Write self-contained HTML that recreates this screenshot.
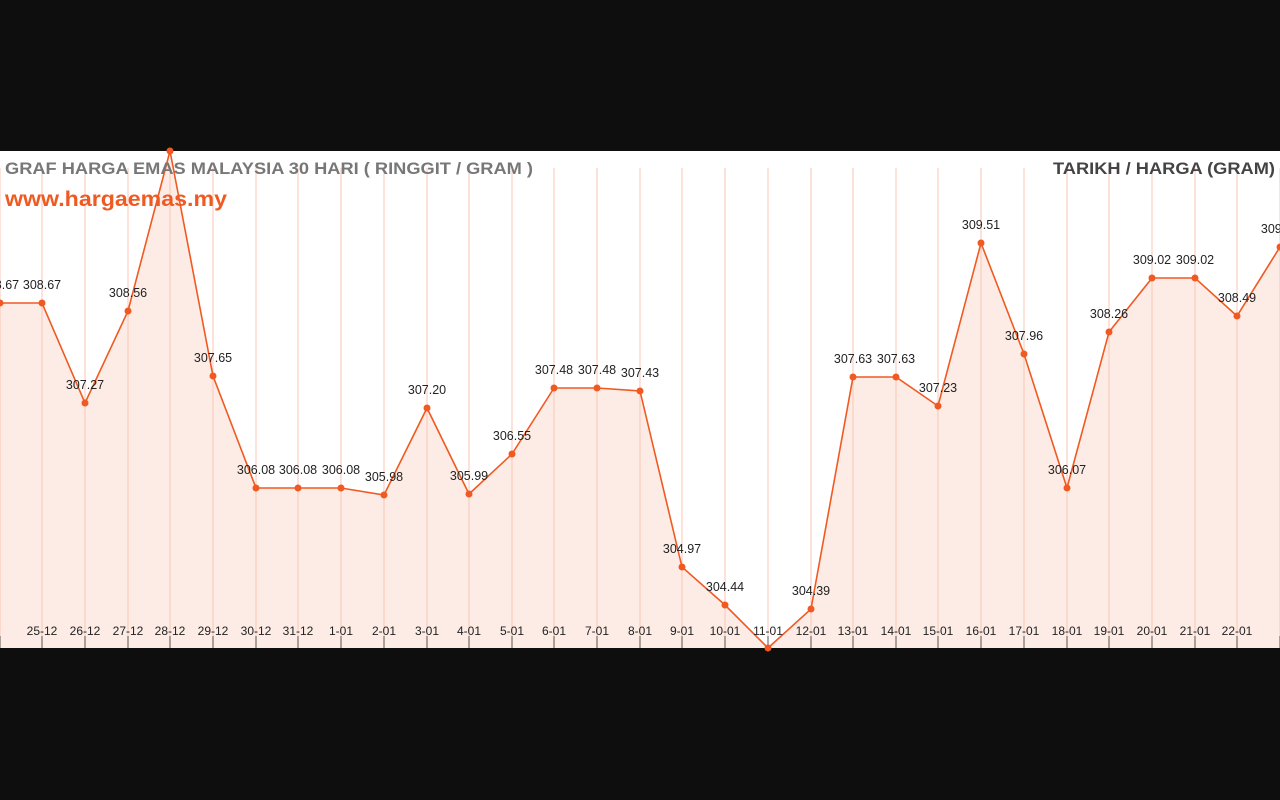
<!DOCTYPE html>
<html><head><style>
html,body{margin:0;padding:0;background:#0e0e0e;width:1280px;height:800px;overflow:hidden}
svg{position:absolute;left:0;top:0}
text{font-family:"Liberation Sans",sans-serif}
</style></head><body>
<svg width="1280" height="800" viewBox="0 0 1280 800">
<rect x="0" y="151" width="1280" height="497" fill="#fff"/>
<g id="g"></g>
</svg>
<script>
const pts=[[0,303,"308.67"],[42,303,"308.67"],[85,403,"307.27"],[128,311,"308.56"],[170,151,""],[213,376,"307.65"],[256,488,"306.08"],[298,488,"306.08"],[341,488,"306.08"],[384,495,"305.98"],[427,408,"307.20"],[469,494,"305.99"],[512,454,"306.55"],[554,388,"307.48"],[597,388,"307.48"],[640,391,"307.43"],[682,567,"304.97"],[725,605,"304.44"],[768,648,"303.84"],[811,609,"304.39"],[853,377,"307.63"],[896,377,"307.63"],[938,406,"307.23"],[981,243,"309.51"],[1024,354,"307.96"],[1067,488,"306.07"],[1109,332,"308.26"],[1152,278,"309.02"],[1195,278,"309.02"],[1237,316,"308.49"],[1280,247,"309.07"]];
const labs=["24-12","25-12","26-12","27-12","28-12","29-12","30-12","31-12","1-01","2-01","3-01","4-01","5-01","6-01","7-01","8-01","9-01","10-01","11-01","12-01","13-01","14-01","15-01","16-01","17-01","18-01","19-01","20-01","21-01","22-01","23-01"];
let s="";
const poly=pts.map(p=>p[0]+","+p[1]).join(" ");
s+=`<polygon points="0,648 ${poly} 1280,648" fill="#fdece6"/>`;
pts.forEach((p,i)=>{s+=`<line x1="${p[0]}" y1="168" x2="${p[0]}" y2="636" stroke="#f9c6b4" stroke-width="1"/>`;
s+=`<line x1="${p[0]}" y1="636" x2="${p[0]}" y2="648" stroke="#555" stroke-width="1"/>`;});
s+=`<polyline points="${poly}" fill="none" stroke="#f05a22" stroke-width="1.6"/>`;
pts.forEach((p,i)=>{s+=`<circle cx="${p[0]}" cy="${p[1]}" r="3.5" fill="#f05a22"/>`;
if(p[2]&&i!=18)s+=`<text x="${p[0]}" y="${p[1]-14}" font-size="12.5" fill="#222" text-anchor="middle">${p[2]}</text>`;
if(i>0&&i<30)s+=`<text x="${p[0]}" y="635" font-size="12" fill="#222" text-anchor="middle">${labs[i]}</text>`;});
s+=`<text x="5" y="174" font-size="17" font-weight="bold" fill="#777" textLength="528" lengthAdjust="spacingAndGlyphs">GRAF HARGA EMAS MALAYSIA 30 HARI ( RINGGIT / GRAM )</text>`;
s+=`<text x="5" y="206" font-size="21" font-weight="bold" fill="#f05a22" textLength="222" lengthAdjust="spacingAndGlyphs">www.hargaemas.my</text>`;
s+=`<text x="1053" y="174" font-size="17" font-weight="bold" fill="#444" textLength="222" lengthAdjust="spacingAndGlyphs">TARIKH / HARGA (GRAM)</text>`;
document.getElementById("g").innerHTML=s;
</script>
</body></html>
